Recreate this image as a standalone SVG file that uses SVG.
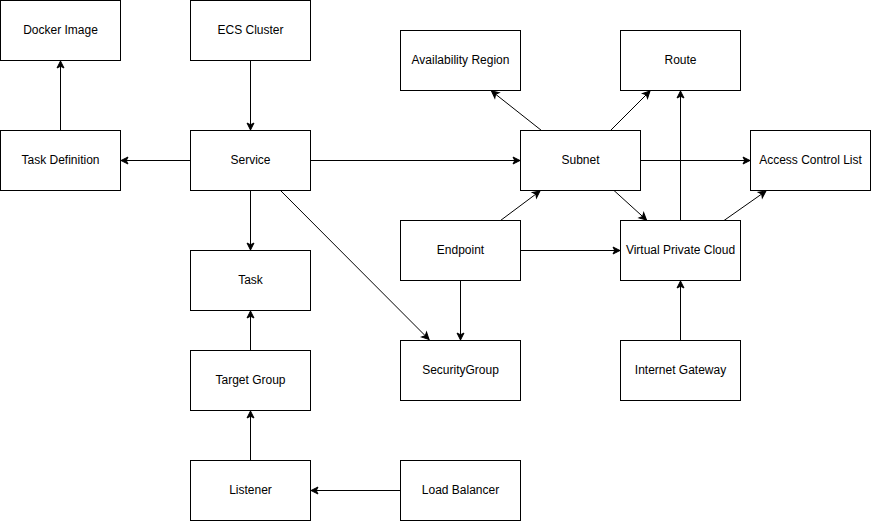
<svg xmlns="http://www.w3.org/2000/svg" width="871" height="521" viewBox="0 0 871 521">
<style>
.box{fill:#ffffff;stroke:#000000;stroke-width:1}
.lbl{font-family:"Liberation Sans",Arial,sans-serif;font-size:12px;fill:#000000;text-anchor:middle;dominant-baseline:central}
.edge{fill:none;stroke:#000000;stroke-width:1;marker-end:url(#arr)}
</style>
<defs>
<marker id="arr" markerUnits="userSpaceOnUse" viewBox="-9 -5 10 10" markerWidth="10" markerHeight="10" refX="0" refY="0" orient="auto" overflow="visible">
<path d="M0,0 L-7,-3.5 L-5.25,0 L-7,3.5 Z" fill="#000000" stroke="#000000" stroke-width="1"/>
</marker>
</defs>
<rect width="871" height="521" fill="#ffffff"/>
<g id="connectors">
<path class="edge" d="M60.5,130.5 V61"/>
<path class="edge" d="M250.5,60.5 V130"/>
<path class="edge" d="M190.5,160.5 H121"/>
<path class="edge" d="M310.5,160.5 H520"/>
<path class="edge" d="M250.5,190.5 V250"/>
<path class="edge" d="M280.5,190.5 L429,339.5"/>
<path class="edge" d="M460.5,280.5 V340"/>
<path class="edge" d="M250.5,350.5 V311"/>
<path class="edge" d="M250.5,460.5 V411"/>
<path class="edge" d="M400.5,490.5 H311"/>
<path class="edge" d="M541.5,130.5 L491.5,91"/>
<path class="edge" d="M610.5,130.5 L650,91"/>
<path class="edge" d="M680.5,220.5 V91"/>
<path class="edge" d="M640.5,160.5 H750"/>
<path class="edge" d="M614,190.5 L646.5,220"/>
<path class="edge" d="M724,220.5 L766,191"/>
<path class="edge" d="M500.5,220.5 L540,191"/>
<path class="edge" d="M520.5,250.5 H620"/>
<path class="edge" d="M680.5,340.5 V281"/>
</g>
<g id="docker-image"><rect class="box" x="0.5" y="0.5" width="120" height="60"/><text class="lbl" x="60.5" y="29.5">Docker Image</text></g>
<g id="ecs-cluster"><rect class="box" x="190.5" y="0.5" width="120" height="60"/><text class="lbl" x="250.5" y="29.5">ECS Cluster</text></g>
<g id="availability-region"><rect class="box" x="400.5" y="30.5" width="120" height="60"/><text class="lbl" x="460.5" y="59.5">Availability Region</text></g>
<g id="route"><rect class="box" x="620.5" y="30.5" width="120" height="60"/><text class="lbl" x="680.5" y="59.5">Route</text></g>
<g id="task-definition"><rect class="box" x="0.5" y="130.5" width="120" height="60"/><text class="lbl" x="60.5" y="159.5">Task Definition</text></g>
<g id="service"><rect class="box" x="190.5" y="130.5" width="120" height="60"/><text class="lbl" x="250.5" y="159.5">Service</text></g>
<g id="subnet"><rect class="box" x="520.5" y="130.5" width="120" height="60"/><text class="lbl" x="580.5" y="159.5">Subnet</text></g>
<g id="access-control-list"><rect class="box" x="750.5" y="130.5" width="120" height="60"/><text class="lbl" x="810.5" y="159.5">Access Control List</text></g>
<g id="endpoint"><rect class="box" x="400.5" y="220.5" width="120" height="60"/><text class="lbl" x="460.5" y="249.5">Endpoint</text></g>
<g id="virtual-private-cloud"><rect class="box" x="620.5" y="220.5" width="120" height="60"/><text class="lbl" x="680.5" y="249.5">Virtual Private Cloud</text></g>
<g id="task"><rect class="box" x="190.5" y="250.5" width="120" height="60"/><text class="lbl" x="250.5" y="279.5">Task</text></g>
<g id="security-group"><rect class="box" x="400.5" y="340.5" width="120" height="60"/><text class="lbl" x="460.5" y="369.5">SecurityGroup</text></g>
<g id="internet-gateway"><rect class="box" x="620.5" y="340.5" width="120" height="60"/><text class="lbl" x="680.5" y="369.5">Internet Gateway</text></g>
<g id="target-group"><rect class="box" x="190.5" y="350.5" width="120" height="60"/><text class="lbl" x="250.5" y="379.5">Target Group</text></g>
<g id="listener"><rect class="box" x="190.5" y="460.5" width="120" height="60"/><text class="lbl" x="250.5" y="489.5">Listener</text></g>
<g id="load-balancer"><rect class="box" x="400.5" y="460.5" width="120" height="60"/><text class="lbl" x="460.5" y="489.5">Load Balancer</text></g>
</svg>
